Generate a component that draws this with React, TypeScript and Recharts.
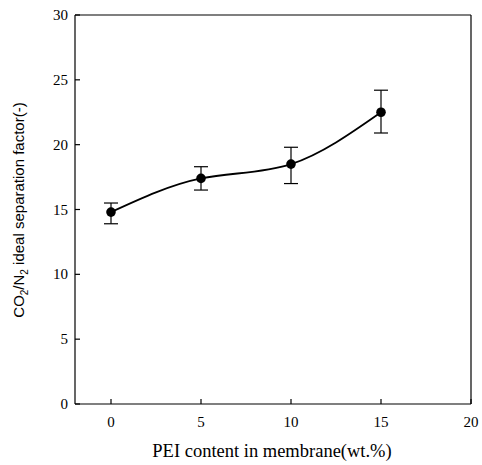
import { ComposedChart, Line, XAxis, YAxis, ErrorBar, ReferenceLine } from "recharts";

const peiContent = [0, 5, 10, 15];
const sepFactor = [14.8, 17.4, 18.5, 22.5];
const errLow = [13.9, 16.5, 17.0, 20.9];
const errHigh = [15.5, 18.3, 19.8, 24.2];
const xTicks = [0, 5, 10, 15, 20];
const yTicks = [0, 5, 10, 15, 20, 25, 30];

const data = peiContent.map((x, i) => ({
  x,
  y: sepFactor[i],
  err: [sepFactor[i] - errLow[i], errHigh[i] - sepFactor[i]],
}));

const SERIF = "'Liberation Serif', 'DejaVu Serif', serif";
const SANS = "'Liberation Sans', Arial, sans-serif";

function YTick(props: any) {
  const { x, y, payload } = props;
  return (
    <g>
      <line x1={x} x2={x + 5} y1={y} y2={y} stroke="#000" strokeWidth={1.2} />
      <text x={x - 7} y={y + 5} textAnchor="end" fontFamily={SERIF} fontSize={15} fill="#000">
        {payload.value}
      </text>
    </g>
  );
}

function XTick(props: any) {
  const { x, y, payload } = props;
  return (
    <g>
      <line x1={x} x2={x} y1={y} y2={y - 5} stroke="#000" strokeWidth={1.2} />
      <text x={x} y={y + 23} textAnchor="middle" fontFamily={SERIF} fontSize={15} fill="#000">
        {payload.value}
      </text>
    </g>
  );
}

export default function App() {
  return (
    <div style={{ position: "absolute", left: 0, top: 0, width: 482, height: 465, background: "#fff" }}>
      <ComposedChart width={482} height={465} data={data} margin={{ top: 15, right: 11, left: 0, bottom: 0 }}>
        <XAxis
          dataKey="x"
          type="number"
          domain={[-2, 20]}
          ticks={xTicks}
          height={61}
          tickSize={0}
          tickMargin={0}
          tickLine={false}
          axisLine={{ stroke: "#000", strokeWidth: 1.2 }}
          tick={<XTick />}
        />
        <YAxis
          type="number"
          domain={[0, 30]}
          ticks={yTicks}
          width={75}
          tickSize={0}
          tickMargin={0}
          tickLine={false}
          axisLine={{ stroke: "#000", strokeWidth: 1.2 }}
          tick={<YTick />}
        />
        <ReferenceLine y={30} stroke="#000" strokeWidth={1.2} />
        <ReferenceLine x={20} stroke="#000" strokeWidth={1.2} />
        <Line
          dataKey="y"
          type="natural"
          stroke="#000"
          strokeWidth={1.8}
          dot={{ r: 4.8, fill: "#000", stroke: "#000", strokeWidth: 0 }}
          isAnimationActive={false}
        >
          <ErrorBar dataKey="err" width={7} stroke="#000" strokeWidth={1.2} direction="y" />
        </Line>
        <text x={272} y={457} textAnchor="middle" fontFamily={SERIF} fontSize={18.5} fill="#000">
          PEI content in membrane(wt.%)
        </text>
        <text
          x={0}
          y={0}
          transform="translate(24 210) rotate(-90)"
          textAnchor="middle"
          fontFamily={SANS}
          fontSize={15}
          fill="#000"
        >
          CO<tspan fontSize={10} dy={4}>2</tspan>
          <tspan dy={-4}>/N</tspan>
          <tspan fontSize={10} dy={4}>2</tspan>
          <tspan dy={-4}> ideal separation factor(-)</tspan>
        </text>
      </ComposedChart>
    </div>
  );
}
